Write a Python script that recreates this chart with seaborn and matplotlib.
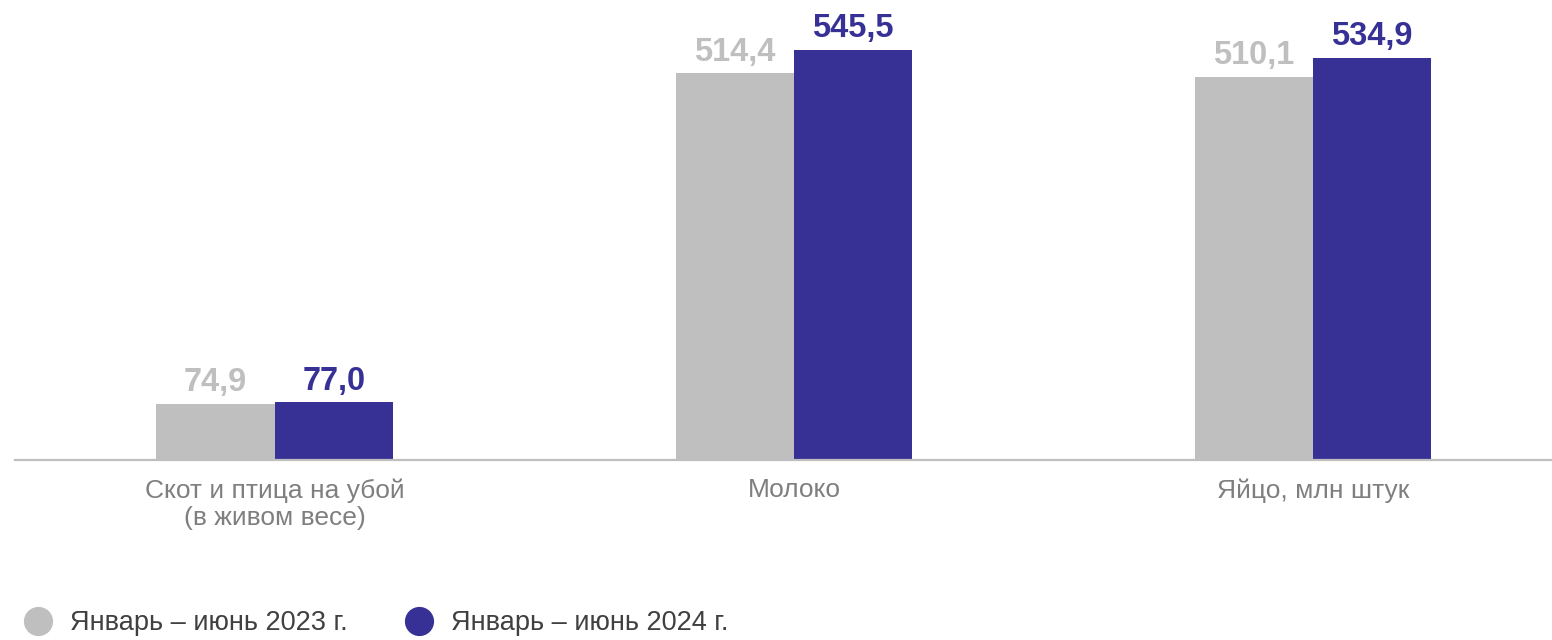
import matplotlib
matplotlib.use("Agg")
import matplotlib.pyplot as plt
from matplotlib.lines import Line2D
import pandas as pd
import seaborn as sns

# данные
categories = ["Скот и птица на убой\n(в живом весе)", "Молоко", "Яйцо, млн штук"]
values_2023 = [74.9, 514.4, 510.1]
values_2024 = [77.0, 545.5, 534.9]
periods = ["Январь – июнь 2023 г.", "Январь – июнь 2024 г."]
colors = ["#BFBFBF", "#373196"]

df = pd.DataFrame({
    "Категория": categories * 2,
    "Значение": values_2023 + values_2024,
    "Период": [periods[0]] * 3 + [periods[1]] * 3,
})

sns.set_style("white")
plt.rcParams["font.family"] = ["Liberation Sans", "DejaVu Sans"]

fig = plt.figure(figsize=(15.52, 6.4), dpi=100)
ax = fig.add_axes([15 / 1552, 180 / 640, 1 - 15 / 1552, 460 / 640])

sns.barplot(data=df, x="Категория", y="Значение", hue="Период",
            palette=colors, saturation=1, width=0.455, linewidth=0,
            ax=ax, legend=False)

for cont, col in zip(ax.containers, colors):
    ax.bar_label(cont, labels=[f"{v:.1f}".replace(".", ",") for v in cont.datavalues],
                 padding=4, fontsize=23.5, fontweight="bold", color=col)

ax.set_xlim(-0.5, 2.46)
ax.set_ylim(0, 612)
ax.set_xlabel("")
ax.set_ylabel("")
ax.set_yticks([])
sns.despine(ax=ax, left=True)
ax.spines["bottom"].set_color("#BFBFBF")
ax.spines["bottom"].set_linewidth(1.6)
ax.tick_params(axis="x", length=0, pad=13, labelsize=19, labelcolor="#7F7F7F")
for lbl in ax.get_xticklabels():
    lbl.set_linespacing(1.2)

handles = [Line2D([], [], marker="o", linestyle="", markersize=20,
                  markerfacecolor=c, markeredgecolor=c) for c in colors]
fig.legend(handles, periods, loc="center left", bbox_to_anchor=(0.0, 0.026),
           ncol=2, frameon=False, fontsize=19.5, labelcolor="#404040",
           handlelength=1.63, handletextpad=0.37, columnspacing=1.8,
           borderaxespad=0.2)

fig.savefig("out.png", dpi=100)
